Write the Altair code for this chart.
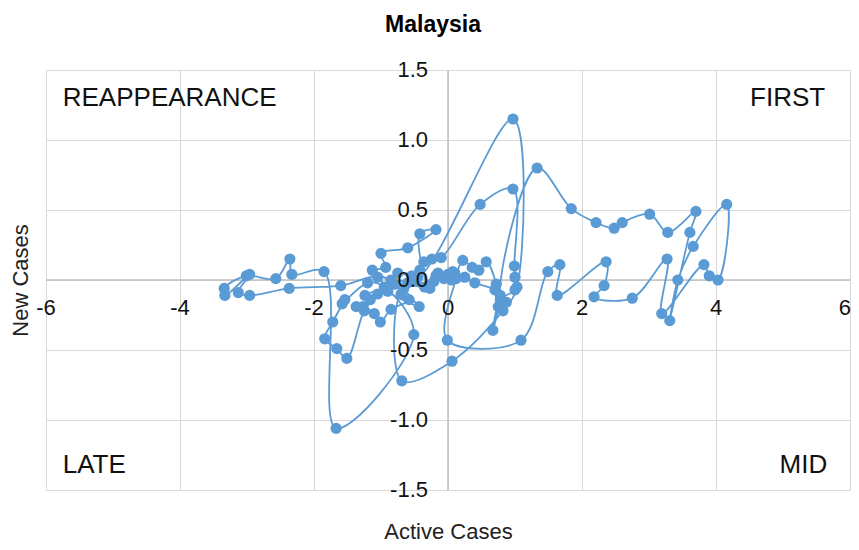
import altair as alt
import pandas as pd

# Trajectory (in time order) — Active Cases vs New Cases
active = [
    0.00, 0.07, -0.06, -0.21, -0.30, -0.48, -0.54, -0.42, -0.36, -0.24, -0.10,
    0.48, 0.97, 0.99, 1.00, 1.00, 0.78, 0.67, 0.75, 0.72, 0.57, 0.46, 0.36, 0.22, 0.12,
    -0.01, 1.09, 1.49, 1.67, 1.63, 2.36, 2.33, 2.18, 2.75, 3.27, 3.19, 3.82, 3.90, 4.03, 4.16,
    3.66, 3.43, 3.31, 3.61, 3.70, 3.28, 3.01, 2.60, 2.48, 2.21, 1.84, 1.33,
    0.78, 0.87, 0.70, 0.40, 0.25, 0.10, -0.18, -0.27, -0.42, -0.18, -0.60, -1.00, -0.93, -1.13,
    -0.66, -0.58, -0.85, -1.01, -1.10, -1.27, -1.37, -1.16, -1.24, -0.80, -0.75, -0.45,
    0.97, 1.03, 0.82, 0.06, -0.69, -0.70, -0.43, -0.90, -1.05,
    -1.60, -2.37, -2.96, -3.13, -2.96, -3.33, -3.34, -3.01, -2.57, -2.36, -2.33, -1.85, -1.67,
    -0.51, -0.95, -1.20, -1.58, -1.54, -1.72, -1.84, -1.66, -1.51, -1.25, -1.05, -0.85, -0.60,
    -0.35, -0.15, 0.05,
]
new_cases = [
    0.04, 0.06, 0.01, -0.01, -0.04, -0.01, 0.03, 0.07, 0.13, 0.15, 0.16,
    0.54, 0.65, 0.10, 0.02, -0.07, -0.14, -0.36, -0.19, -0.03, 0.13, 0.07, 0.09, 0.14, 0.01,
    -0.43, -0.43, 0.06, 0.11, -0.11, 0.13, -0.04, -0.12, -0.13, 0.15, -0.24, 0.11, 0.03, 0.00, 0.54,
    0.24, 0.00, -0.29, 0.34, 0.49, 0.34, 0.47, 0.41, 0.37, 0.41, 0.51, 0.80,
    -0.11, -0.16, -0.07, -0.02, 0.02, 0.05, 0.03, -0.06, 0.33, 0.36, 0.23, 0.19, 0.09, 0.07,
    -0.06, -0.14, -0.21, -0.30, -0.24, -0.19, -0.19, -0.14, -0.11, -0.03, 0.05, 0.02,
    1.15, -0.05, -0.22, -0.58, -0.72, -0.10, -0.19, -0.08, 0.02,
    -0.04, -0.06, -0.11, -0.09, 0.04, -0.11, -0.06, 0.03, 0.01, 0.15, 0.04, 0.06, -1.06,
    -0.39, -0.05, -0.02, -0.17, -0.14, -0.30, -0.42, -0.49, -0.56, -0.22, -0.10, 0.00, -0.02,
    -0.05, 0.05, 0.00,
]

x_tick_values = [-6, -4, -2, 0, 2, 4, 6]
x_tick_labels = ["-6", "-4", "-2", "0", "2", "4", "6"]
y_tick_values = [-1.5, -1.0, -0.5, 0.0, 0.5, 1.0, 1.5]
y_tick_labels = ["-1.5", "-1.0", "-0.5", "0.0", "0.5", "1.0", "1.5"]

quad_names = ["REAPPEARANCE", "FIRST", "LATE", "MID"]
quad_x = [-5.75, 5.63, -5.75, 5.66]
quad_y = [1.30, 1.30, -1.32, -1.32]

BLUE = "#5B9BD5"
FONT = "Liberation Sans"

df = pd.DataFrame({"i": range(len(active)), "a": active, "n": new_cases})
xt = pd.DataFrame({"v": x_tick_values, "t": x_tick_labels, "z": 0.0})
yt = pd.DataFrame({"v": y_tick_values, "t": y_tick_labels, "z": 0.0})
qd = pd.DataFrame({"t": quad_names, "x": quad_x, "y": quad_y})

xscale = alt.Scale(domain=[-6, 6], nice=False, zero=False)
yscale = alt.Scale(domain=[-1.5, 1.5], nice=False, zero=False)
xaxis = alt.Axis(values=x_tick_values, grid=True, gridColor="#d9d9d9", gridWidth=1,
                 labels=False, ticks=False, domain=False, title="Active Cases",
                 titleFont=FONT, titleFontSize=22, titleFontWeight="normal",
                 titleColor="#222222", titlePadding=31)
yaxis = alt.Axis(values=y_tick_values, grid=True, gridColor="#d9d9d9", gridWidth=1,
                 labels=False, ticks=False, domain=False, title="New Cases",
                 titleFont=FONT, titleFontSize=22, titleFontWeight="normal",
                 titleColor="#222222", titlePadding=14)

def X(field):
    return alt.X(field, type="quantitative", scale=xscale, axis=xaxis)

def Y(field):
    return alt.Y(field, type="quantitative", scale=yscale, axis=yaxis)

zero_v = alt.Chart(xt[xt.v == 0]).mark_rule(color="#bfbfbf", strokeWidth=1.5).encode(x=X("v"))
zero_h = alt.Chart(yt[yt.v == 0]).mark_rule(color="#bfbfbf", strokeWidth=1.5).encode(y=Y("v"))

line = alt.Chart(df).mark_line(interpolate="catmull-rom", color=BLUE, strokeWidth=1.8).encode(
    x=X("a"), y=Y("n"), order="i:Q")
pts = alt.Chart(df).mark_circle(size=125, color=BLUE, opacity=1).encode(x=X("a"), y=Y("n"))

xlab_main = alt.Chart(xt[xt.v < 6]).mark_text(font=FONT, fontSize=22, color="#111111", dy=28,
                                              align="center", baseline="middle").encode(
    x=X("v"), y=Y("z"), text="t:N")
xlab_last = alt.Chart(xt[xt.v == 6]).mark_text(font=FONT, fontSize=22, color="#111111", dy=28,
                                               dx=1, align="right", baseline="middle").encode(
    x=X("v"), y=Y("z"), text="t:N")
ylab = alt.Chart(yt).mark_text(font=FONT, fontSize=22, color="#111111", dx=-20,
                               align="right", baseline="middle").encode(
    x=X("z"), y=Y("v"), text="t:N")

qleft = alt.Chart(qd[qd.t.isin(["REAPPEARANCE", "LATE"])]).mark_text(
    font=FONT, fontSize=26, color="#111111", align="left", baseline="middle").encode(
    x=X("x"), y=Y("y"), text="t:N")
qright = alt.Chart(qd[qd.t.isin(["FIRST", "MID"])]).mark_text(
    font=FONT, fontSize=26, color="#111111", align="right", baseline="middle").encode(
    x=X("x"), y=Y("y"), text="t:N")

chart = alt.layer(zero_v, zero_h, line, pts, xlab_main, xlab_last, ylab, qleft, qright).properties(
    width=804, height=420,
    title=alt.TitleParams("Malaysia", font=FONT, fontSize=23, fontWeight="bold",
                          color="#000000", anchor="middle", offset=22, dx=-15),
    autosize=alt.AutoSizeParams(type="none"),
    padding={"left": 38, "top": 62, "right": 1, "bottom": 52},
).configure_view(stroke=None)

chart.save("out.html", embed_options={"renderer": "svg", "actions": False})
